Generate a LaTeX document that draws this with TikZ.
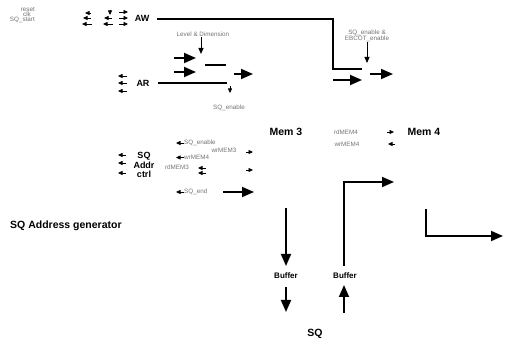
\documentclass[tikz,border=0pt]{standalone}
\usepackage{fontspec}
\setmainfont{Liberation Sans}
\usetikzlibrary{arrows.meta}
\begin{document}
\begin{tikzpicture}[x=1pt,y=-1pt,
  lbl/.style={font=\bfseries\fontsize{9}{11}\selectfont, inner sep=0},
  biglbl/.style={font=\bfseries\fontsize{10.5}{12}\selectfont, inner sep=0},
  buf/.style={font=\bfseries\fontsize{8}{10}\selectfont, inner sep=0},
  tiny/.style={font=\fontsize{6.3}{7}\selectfont, text=black!55, inner sep=0},
  bus/.style={line width=1.8pt, -{Triangle[length=12pt,width=10pt]}},
  wire/.style={line width=1.8pt},
  sig/.style={line width=0.7pt, -{Triangle[length=4.5pt,width=4pt]}},
  sigd/.style={line width=1pt, -{Triangle[length=6pt,width=5pt]}},
]
\useasboundingbox (0,0) rectangle (528,358);

% ---- top-left inputs
\node[tiny, anchor=east] (reset) at (35,9) {reset};
\node[tiny, anchor=east] (clk) at (31,14) {clk};
\node[tiny, anchor=east] (sqstart) at (35,19.5) {SQ\_start};

\coordinate (r1a) at (91,13);  \coordinate (r1b) at (85,13);
\coordinate (r2a) at (91,18);  \coordinate (r2b) at (83,18);
\coordinate (r3a) at (92,24);  \coordinate (r3b) at (82,24);
\coordinate (s1a) at (110,10); \coordinate (s1b) at (110,15);
\coordinate (s2a) at (112,18); \coordinate (s2b) at (104,18);
\coordinate (s3a) at (113,24); \coordinate (s3b) at (103,24);
\draw[sig] (r1a) -- (r1b);
\draw[sig] (r2a) -- (r2b);
\draw[sig] (r3a) -- (r3b);
\draw[sig] (s1a) -- (s1b);
\draw[sig] (s2a) -- (s2b);
\draw[sig] (s3a) -- (s3b);
\foreach \y in {12,18,24}{
  \draw[sig] (119,\y) -- (128,\y);
}

\node[lbl] (AW) at (142,18) {AW};
\node[lbl] (AR) at (143,83) {AR};

% AW bus
\coordinate (aw1) at (157,19);
\coordinate (aw2) at (333,19);
\coordinate (aw3) at (333,69);
\coordinate (aw4) at (362,69);
\draw[wire] (aw1) -- (aw2) -- (aw3) -- (aw4);

\node[tiny, align=center] (sqebc) at (367,36) {SQ\_enable \&\\[-1pt]EBCOT\_enable};
\coordinate (sqebcE) at (367,63);
\draw[sigd] (sqebc.south) -- (sqebcE);
\coordinate (o1a) at (333,80); \coordinate (o1b) at (362,80);
\coordinate (o2a) at (370,74); \coordinate (o2b) at (393,74);
\draw[bus] (o1a) -- (o1b);
\draw[bus] (o2a) -- (o2b);

% Level & Dimension block
\node[tiny] (lvl) at (203,34.5) {Level \& Dimension};
\coordinate (lvlE) at (201,54);
\draw[sigd] (lvl.south -| lvlE) -- (lvlE);
\coordinate (b1a) at (174,58); \coordinate (b1b) at (196,58);
\coordinate (b2a) at (174,72); \coordinate (b2b) at (196,72);
\coordinate (b3a) at (234,74); \coordinate (b3b) at (253,74);
\draw[bus] (b1a) -- (b1b);
\draw[bus] (b2a) -- (b2b);
\draw[bus] (b3a) -- (b3b);
\coordinate (sl1) at (205,65); \coordinate (sl2) at (226,65);
\draw[wire] (sl1) -- (sl2);
\coordinate (ar1) at (158,83); \coordinate (ar2) at (227,83);
\draw[wire] (ar1) -- (ar2);
\coordinate (sqe1) at (230,86); \coordinate (sqe2) at (230,93);
\draw[sig] (sqe1) -- (sqe2);
\node[tiny] (sqen) at (229,108) {SQ\_enable};

% AR inputs
\foreach \y in {76,83,91}{
  \draw[sig] (127,\y) -- (118,\y);
}

% SQ Addr ctrl
\node[lbl, align=center] (sqac) at (144,165) {SQ\\[-1.5pt]Addr\\[-1.5pt]ctrl};
\foreach \y in {155,163,173}{
  \draw[sig] (126,\y) -- (118,\y);
}
\node[tiny, anchor=west] (msqen) at (184,143) {SQ\_enable};
\draw[sig] (msqen.west) -- ++(-8,0);
\node[tiny] (wr3) at (224,150.5) {wrMEM3};
\node[tiny, anchor=west] (wr4) at (184,157.5) {wrMEM4};
\draw[sig] (wr4.west) -- ++(-8,0);
\node[tiny] (rd3) at (177,167) {rdMEM3};
\draw[sig] (206,168) -- (198,168);
\draw[sig] (206,173) -- (198,173);
\draw[sig] (246,152) -- (253,152);
\draw[sig] (246,170) -- (253,170);
\node[tiny, anchor=west] (sqend) at (184,192) {SQ\_end};
\draw[sig] (sqend.west) -- ++(-8,0);
\coordinate (se1) at (223,192); \coordinate (se2) at (254,192);
\draw[bus] (se1) -- (se2);

% Mem 3 / Mem 4
\node[biglbl] (mem3) at (286,132) {Mem 3};
\node[biglbl] (mem4) at (424,132) {Mem 4};
\node[tiny] (rd4) at (346,132) {rdMEM4};
\node[tiny] (wr4b) at (347,144) {wrMEM4};
\draw[sig] (387,132) -- (394,132);
\draw[sig] (395,144) -- (388,144);

% Lower buses
\coordinate (m3d1) at (286,208);
\coordinate (m3d2) at (286,266);
\draw[bus] (m3d1) -- (m3d2);
\node[buf] (buf1) at (286,276) {Buffer};
\node[buf] (buf2) at (345,276) {Buffer};
\coordinate (bo0) at (286,287);
\coordinate (bo1) at (286,312);
\draw[bus] (bo0) -- (bo1);
\coordinate (bi1) at (344,313);
\coordinate (bi2) at (344,285);
\draw[bus] (bi1) -- (bi2);
\coordinate (m4a) at (344,266);
\coordinate (m4b) at (344,182);
\coordinate (m4c) at (394,182);
\draw[bus] (m4a) -- (m4b) -- (m4c);
\coordinate (la) at (426,209);
\coordinate (lb) at (426,236);
\coordinate (lc) at (503,236);
\draw[bus] (la) -- (lb) -- (lc);

\node[biglbl] (sq) at (315,334) {SQ};
\node[biglbl, anchor=west] (sqag) at (10,226) {SQ Address generator};
\end{tikzpicture}
\end{document}
